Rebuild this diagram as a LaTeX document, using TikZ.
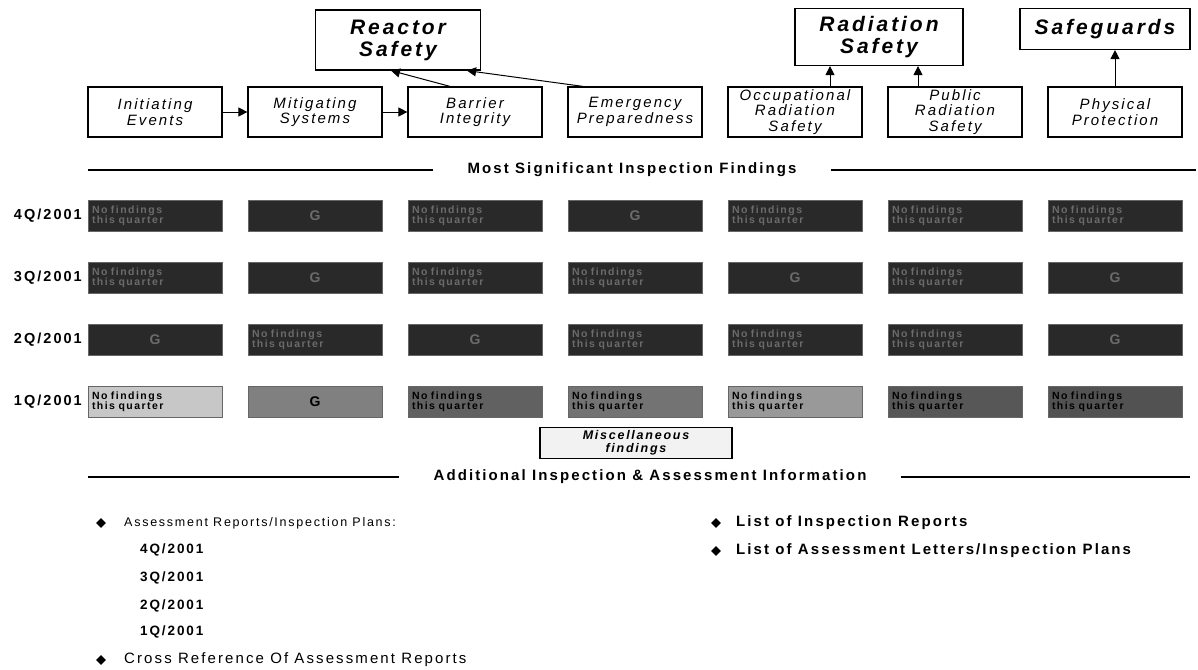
\documentclass[tikz,border=0pt]{standalone}
\usepackage{fontspec}
\setmainfont{Liberation Sans}[LetterSpace=14]
\usetikzlibrary{arrows.meta,shapes.geometric}
\newcommand{\nofind}{No findings\\this quarter}

\begin{document}
\begin{tikzpicture}[x=1pt, y=-1pt, >={Triangle[length=9pt,width=9pt]},
    areabox/.style={draw, line width=1.2pt, align=center, inner sep=2pt, font=\fontsize{21}{22}\selectfont\bfseries\itshape},
    stonebox/.style={draw, line width=1.2pt, minimum width=134pt, minimum height=50pt, align=center, inner sep=1pt, font=\fontsize{15}{15.5}\selectfont\itshape},
    cellbox/.style={draw=black!60, line width=0.8pt, minimum width=134pt, minimum height=31pt, text width=126pt, align=left, inner sep=0pt, font=\fontsize{10.5}{10.5}\selectfont\bfseries},
    dark/.style={cellbox, fill=black!84, text=black!58},
    lite/.style={cellbox, fill=black!#1, text=black},
    gmark/.style={align=center, font=\fontsize{14}{14}\selectfont\bfseries},
    qtr/.style={anchor=east, inner sep=0pt, font=\fontsize{14.5}{15}\selectfont\bfseries},
    ttl/.style={inner xsep=34pt, font=\fontsize{15}{16}\selectfont\bfseries},
    rule/.style={line width=1.4pt},
    link/.style={->, line width=1pt},
    bullet/.style={diamond, fill, inner sep=0pt, minimum size=10pt},
    item/.style={anchor=west, inner sep=0pt}]
    \useasboundingbox (0,0) rectangle (1198,669);

    % cornerstone areas
    \node[areabox, minimum width=165pt, minimum height=60pt] (react) at (398,40) {Reactor\\Safety};
    \node[areabox, minimum width=168pt, minimum height=57pt] (rad) at (879,37) {Radiation\\Safety};
    \node[areabox, minimum width=170pt, minimum height=41pt] (safe) at (1105,29) {Safeguards};

    % cornerstones
    \node[stonebox] (init) at (155,112) {Initiating\\Events};
    \node[stonebox] (mitig) at (315,112) {Mitigating\\Systems};
    \node[stonebox] (barr) at (475,112) {Barrier\\Integrity};
    \node[stonebox] (emer) at (635,112) {Emergency\\Preparedness};
    \node[stonebox] (occ) at (795,112) {Occupational\\Radiation\\Safety};
    \node[stonebox] (pub) at (955,112) {Public\\Radiation\\Safety};
    \node[stonebox] (phys) at (1115,112) {Physical\\Protection};

    \draw[link] (init) -- (mitig);
    \draw[link] (mitig) -- (barr);
    \draw[link] ([xshift=-25pt]barr.north) -- ([xshift=-7pt]react.south);
    \draw[link] ([xshift=-52pt]emer.north) -- ([xshift=69pt]react.south);
    \draw[link] ([xshift=35pt]occ.north) -- ([xshift=35pt]occ.north |- rad.south);
    \draw[link] ([xshift=-37pt]pub.north) -- ([xshift=-37pt]pub.north |- rad.south);
    \draw[link] (phys.north) -- (phys.north |- safe.south);

    % findings
    \node[ttl] (most) at (632,170) {Most Significant Inspection Findings};
    \coordinate (most-l) at (88,170);
    \coordinate (most-r) at (1196,170);
    \draw[rule] (most-l) -- (most.west);
    \draw[rule] (most.east) -- (most-r);

    \node[qtr] (q4) at (82,216) {4Q/2001};
    \node[qtr] (q3) at (82,278) {3Q/2001};
    \node[qtr] (q2) at (82,340) {2Q/2001};
    \node[qtr] (q1) at (82,402) {1Q/2001};

    \node[dark] (c41) at (155,216) {\nofind};
    \node[dark, gmark] (c42) at (315,216) {G};
    \node[dark] (c43) at (475,216) {\nofind};
    \node[dark, gmark] (c44) at (635,216) {G};
    \node[dark] (c45) at (795,216) {\nofind};
    \node[dark] (c46) at (955,216) {\nofind};
    \node[dark] (c47) at (1115,216) {\nofind};

    \node[dark] (c31) at (155,278) {\nofind};
    \node[dark, gmark] (c32) at (315,278) {G};
    \node[dark] (c33) at (475,278) {\nofind};
    \node[dark] (c34) at (635,278) {\nofind};
    \node[dark, gmark] (c35) at (795,278) {G};
    \node[dark] (c36) at (955,278) {\nofind};
    \node[dark, gmark] (c37) at (1115,278) {G};

    \node[dark, gmark] (c21) at (155,340) {G};
    \node[dark] (c22) at (315,340) {\nofind};
    \node[dark, gmark] (c23) at (475,340) {G};
    \node[dark] (c24) at (635,340) {\nofind};
    \node[dark] (c25) at (795,340) {\nofind};
    \node[dark] (c26) at (955,340) {\nofind};
    \node[dark, gmark] (c27) at (1115,340) {G};

    \node[lite=22] (c11) at (155,402) {\nofind};
    \node[lite=50, gmark] (c12) at (315,402) {G};
    \node[lite=62] (c13) at (475,402) {\nofind};
    \node[lite=55] (c14) at (635,402) {\nofind};
    \node[lite=40] (c15) at (795,402) {\nofind};
    \node[lite=66] (c16) at (955,402) {\nofind};
    \node[lite=68] (c17) at (1115,402) {\nofind};

    \node[draw, line width=1.2pt, fill=black!5, minimum width=192pt, minimum height=31pt, align=center, inner sep=1pt, font=\fontsize{12.5}{13}\selectfont\bfseries\itshape] (misc) at (636,443) {Miscellaneous\\findings};

    % additional information
    \node[ttl] (addl) at (650,477) {Additional Inspection \& Assessment Information};
    \coordinate (addl-l) at (88,477);
    \coordinate (addl-r) at (1190,477);
    \draw[rule] (addl-l) -- (addl.west);
    \draw[rule] (addl.east) -- (addl-r);

    \node[bullet] (b1) at (101,523) {};
    \node[item, font=\fontsize{12.5}{13}\selectfont] (plans) at (124,523) {Assessment Reports/Inspection Plans:};
    \node[item, font=\fontsize{13.5}{14}\selectfont\bfseries] (p4) at (140,550) {4Q/2001};
    \node[item, font=\fontsize{13.5}{14}\selectfont\bfseries] (p3) at (140,578) {3Q/2001};
    \node[item, font=\fontsize{13.5}{14}\selectfont\bfseries] (p2) at (140,606) {2Q/2001};
    \node[item, font=\fontsize{13.5}{14}\selectfont\bfseries] (p1) at (140,632) {1Q/2001};
    \node[bullet] (b2) at (101,660) {};
    \node[item, font=\fontsize{15}{16}\selectfont] (xref) at (124,660) {Cross Reference Of Assessment Reports};

    \node[bullet] (b3) at (716,523) {};
    \node[item, font=\fontsize{15}{16}\selectfont\bfseries] (reps) at (736,523) {List of Inspection Reports};
    \node[bullet] (b4) at (716,551) {};
    \node[item, font=\fontsize{15}{16}\selectfont\bfseries] (lets) at (736,551) {List of Assessment Letters/Inspection Plans};
\end{tikzpicture}
\end{document}
